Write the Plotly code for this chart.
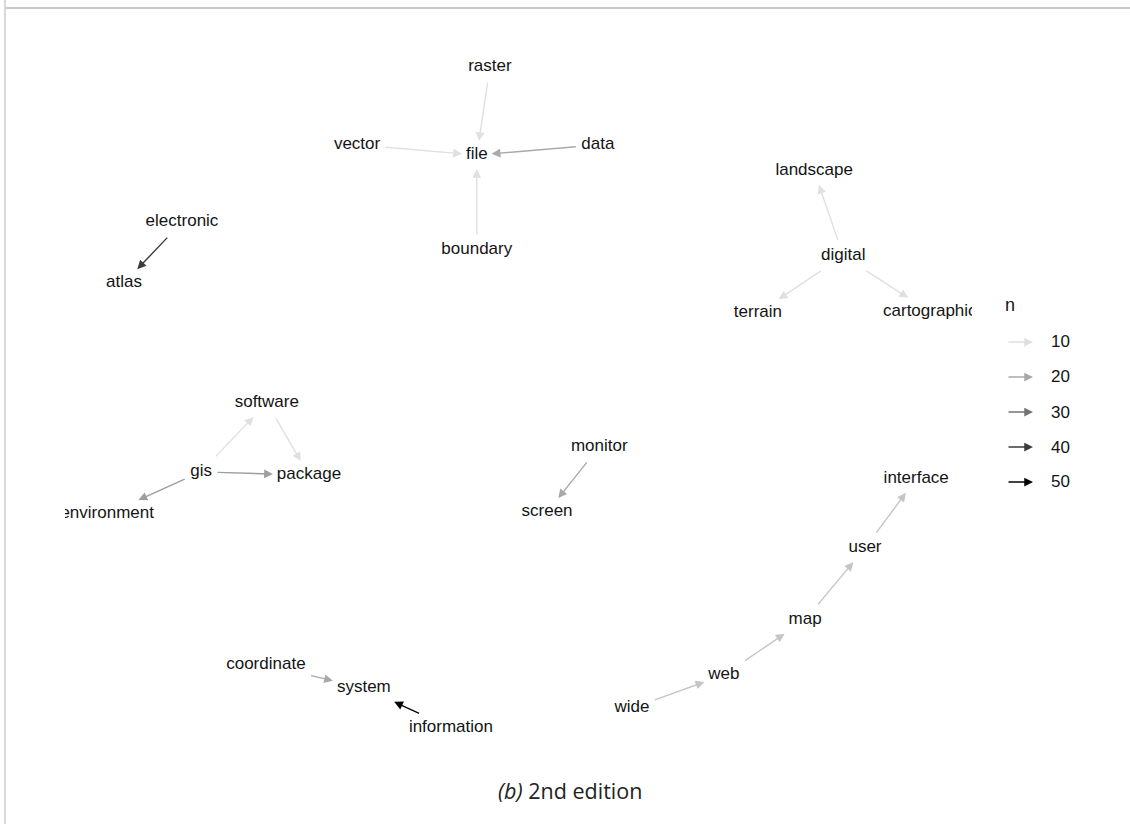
import plotly.graph_objects as go

# ---- bigram network: node layout coordinates (labels sit on their nodes) ----
nodes = ["raster", "vector", "file", "data", "boundary",
         "electronic", "atlas",
         "landscape", "digital", "terrain", "cartographic",
         "software", "gis", "package", "environment",
         "monitor", "screen",
         "interface", "user", "map", "web", "wide",
         "coordinate", "system", "information"]
node_x = [9.37, 6.44, 9.08, 11.75, 9.08,
          2.58, 1.30,
          16.52, 17.16, 15.28, 19.07,
          4.45, 3.00, 5.38, 0.93,
          11.78, 10.63,
          18.77, 17.64, 16.32, 14.53, 12.50,
          4.43, 6.59, 8.51]
node_y = [14.98, 13.30, 13.08, 13.30, 11.03,
          11.63, 10.31,
          12.74, 10.90, 9.66, 9.69,
          7.72, 6.23, 6.16, 5.32,
          6.77, 5.36,
          6.08, 4.58, 3.03, 1.84, 1.12,
          2.05, 1.56, 0.69]

# ---- edges: word1 -> word2 with bigram count n ----
edge_from = ["raster", "vector", "data", "boundary", "electronic",
             "digital", "digital", "digital", "gis", "software", "gis", "gis",
             "monitor", "wide", "web", "map", "user", "coordinate", "information"]
edge_to = ["file", "file", "file", "file", "atlas",
           "landscape", "terrain", "cartographic", "software", "package", "package", "environment",
           "screen", "web", "map", "user", "interface", "system", "system"]
edge_n = [10, 10, 20, 10, 40,
          10, 10, 10, 10, 10, 22, 22,
          20, 15, 15, 15, 15, 20, 50]

legend_breaks = [10, 20, 30, 40, 50]
caption = "<i>(b)</i> 2nd edition"

W, H = 1130, 824
# panel position in pixels
PL, PR, PT, PB = 65, 972, 20, 760
XR, YR = (0, 20), (0, 16)
px_per_x = (PR - PL) / (XR[1] - XR[0])
px_per_y = (PB - PT) / (YR[1] - YR[0])

FONT = "Liberation Sans, Arial, sans-serif"
FS = 17
N_MIN, N_MAX = 9, 51


def edge_gray(n):
    a = 0.1 + 0.9 * (n - N_MIN) / (N_MAX - N_MIN)
    a = max(0.0, min(1.0, a))
    g = int(round(255 * (1 - a)))
    return f"rgb({g},{g},{g})"


# Arial advance widths (em) used to size the label boxes that cap each edge
CW = dict(a=.556, b=.556, c=.5, d=.556, e=.556, f=.278, g=.556, h=.556, i=.222,
          j=.222, k=.5, l=.222, m=.833, n=.556, o=.556, p=.556, q=.556, r=.333,
          s=.5, t=.278, u=.556, v=.5, w=.722, x=.5, y=.5, z=.5)


def half_box(word):
    w = sum(CW.get(c, .556) for c in word) * FS
    return w / 2 + 4, 14.0


def cap(word, ux, uy):
    hw, hh = half_box(word)
    cands = []
    if abs(ux) > 1e-9:
        cands.append(hw / abs(ux))
    if abs(uy) > 1e-9:
        cands.append(hh / abs(uy))
    return min(cands)


pos = {w: (x, y) for w, x, y in zip(nodes, node_x, node_y)}

fig = go.Figure()

annotations = []
for s, t, n in zip(edge_from, edge_to, edge_n):
    xs, ys = pos[s]
    xt, yt = pos[t]
    dx = (xt - xs) * px_per_x
    dy = (yt - ys) * px_per_y
    L = (dx * dx + dy * dy) ** 0.5
    ux, uy = dx / L, dy / L
    annotations.append(dict(
        x=xt, y=yt, ax=xs, ay=ys, xref="x", yref="y", axref="x", ayref="y",
        text="", showarrow=True, arrowhead=2, arrowsize=1.25, arrowwidth=1.4,
        arrowcolor=edge_gray(n),
        standoff=cap(t, ux, uy), startstandoff=cap(s, ux, uy),
    ))

fig.add_trace(go.Scatter(
    x=node_x, y=node_y, text=nodes, mode="text",
    textposition="middle center", cliponaxis=True,
    textfont=dict(family=FONT, size=FS, color="#141414"),
    hoverinfo="skip", showlegend=False,
))

# legend for n
LX_HEAD, LX_TEXT = 1033, 1049
annotations.append(dict(
    x=1003 / W, y=1 - 305 / H, xref="paper", yref="paper", text="n",
    showarrow=False, xanchor="left", yanchor="middle",
    font=dict(family=FONT, size=18, color="#141414"),
))
for i, b in enumerate(legend_breaks):
    ypx = 342 + 35 * i
    annotations.append(dict(
        x=LX_HEAD / W, y=1 - ypx / H, xref="paper", yref="paper",
        ax=-26, ay=0, axref="pixel", ayref="pixel", text="",
        showarrow=True, arrowhead=2, arrowsize=1.25, arrowwidth=1.4,
        arrowcolor=edge_gray(b),
    ))
    annotations.append(dict(
        x=LX_TEXT / W, y=1 - ypx / H, xref="paper", yref="paper",
        text=str(b), showarrow=False, xanchor="left", yanchor="middle",
        font=dict(family=FONT, size=17, color="#141414"),
    ))

annotations.append(dict(
    x=570 / W, y=1 - 790 / H, xref="paper", yref="paper", text=caption,
    showarrow=False, xanchor="center", yanchor="middle",
    font=dict(family="Open Sans, sans-serif", size=21.5, color="#222"),
))

shapes = [
    dict(type="line", xref="paper", yref="paper", x0=5 / W, x1=1, y0=1 - 8 / H, y1=1 - 8 / H,
         line=dict(color="#c8c8c8", width=2)),
    dict(type="line", xref="paper", yref="paper", x0=5 / W, x1=5 / W, y0=0, y1=1,
         line=dict(color="#cccccc", width=1.5)),
]

fig.update_layout(
    width=W, height=H, margin=dict(l=0, r=0, t=0, b=0),
    paper_bgcolor="white", plot_bgcolor="white",
    xaxis=dict(range=list(XR), domain=[PL / W, PR / W], visible=False, fixedrange=True),
    yaxis=dict(range=list(YR), domain=[1 - PB / H, 1 - PT / H], visible=False, fixedrange=True),
    annotations=annotations, shapes=shapes, showlegend=False,
)

fig.write_html("out.html", config={"displayModeBar": False})
